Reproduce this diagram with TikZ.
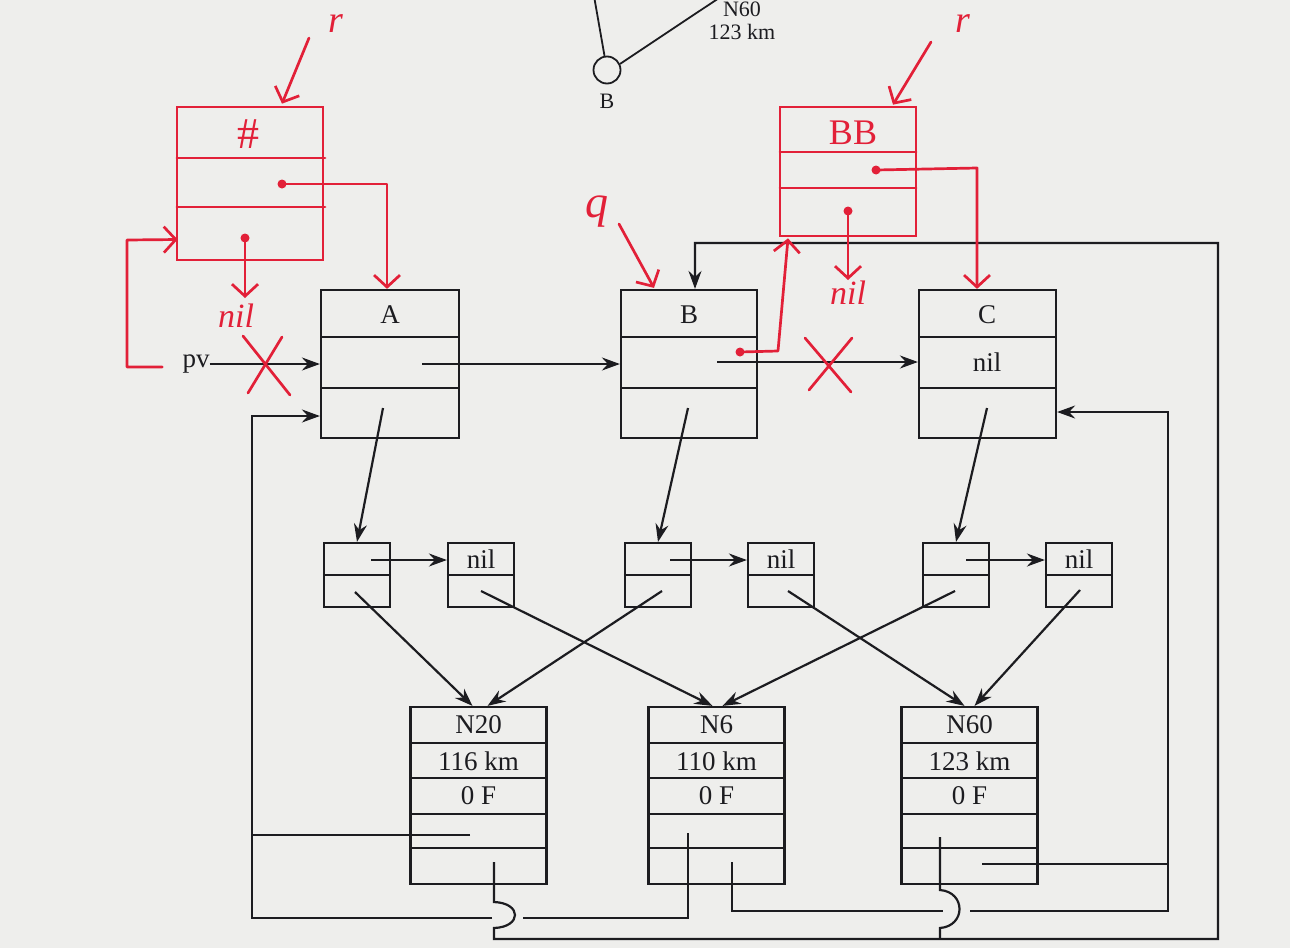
\documentclass[tikz,border=0pt]{standalone}
\usepackage{fontspec}
\setmainfont{Liberation Serif}
\usetikzlibrary{arrows.meta,calc}
\definecolor{ink}{RGB}{28,28,32}
\definecolor{pen}{RGB}{226,32,56}
\definecolor{paper}{RGB}{238,238,236}
\begin{document}
\begin{tikzpicture}[x=1pt,y=-1pt,
  box/.style={draw=ink, line width=2.2pt, inner sep=0pt},
  lbl/.style={text=ink, font=\fontsize{27}{30}\selectfont, inner sep=0pt},
  wire/.style={draw=ink, line width=2.2pt},
  arr/.style={wire, -{Stealth[length=18pt,width=13pt,inset=6pt]}},
  rl/.style={draw=pen, line width=2.7pt, line cap=round, line join=round},
  rarr/.style={rl, -{Straight Barb[length=12pt,width=26pt]}},
  hand/.style={text=pen, font=\fontsize{34}{36}\selectfont\itshape, inner sep=0pt},
  dotp/.style={circle, fill=pen, inner sep=0pt, minimum size=9pt},
  rbox/.style={draw=pen, line width=2.7pt, inner sep=0pt},
]
\fill[paper] (0,0) rectangle (1290,948);
\useasboundingbox (0,0) rectangle (1290,948);

% ---------- top fragment ----------
\node[circle, draw=ink, line width=1.8pt, minimum size=27pt, inner sep=0pt] (Bc) at (607,70) {};
\coordinate (t1) at (594,-4);
\coordinate (t2) at (719,-2);
\draw[wire, line width=1.8pt] (t1) -- (Bc.100);
\draw[wire, line width=1.8pt] (Bc.25) -- (t2);
\node[lbl, font=\fontsize{22}{24}\selectfont] (Bl) at (607,101) {B};
\node[lbl, font=\fontsize{22}{24}\selectfont] (n60t) at (742,9) {N60};
\node[lbl, font=\fontsize{22}{24}\selectfont] (km60t) at (742,32) {123 km};

% ---------- main boxes ----------
\node[box, minimum width=138pt, minimum height=148pt] (A) at (390,364) {};
\draw[wire] (321,337) -- (459,337); \draw[wire] (321,388) -- (459,388);
\node[lbl] (At) at (390,315) {A};

\node[box, minimum width=136pt, minimum height=148pt] (B) at (689,364) {};
\draw[wire] (621,337) -- (757,337); \draw[wire] (621,388) -- (757,388);
\node[lbl] (Bt) at (689,315) {B};

\node[box, minimum width=137pt, minimum height=148pt] (C) at (987.5,364) {};
\draw[wire] (919,337) -- (1056,337); \draw[wire] (919,388) -- (1056,388);
\node[lbl] (Ct) at (987,315) {C};
\node[lbl] (Cn) at (987,362) {nil};

% ---------- small boxes ----------
\foreach \n/\x in {s1/357,n1/481,s2/658,n2/781,s3/956,n3/1079}{
  \node[box, minimum width=66pt, minimum height=64pt] (\n) at (\x,575) {};
  \draw[wire] ($(\n.west)$) -- ($(\n.east)$);
}
\node[lbl] at (481,559) {nil};
\node[lbl] at (781,559) {nil};
\node[lbl] at (1079,559) {nil};

% ---------- city boxes ----------
\foreach \n/\x/\a/\b in {N20/478.5/N20/116 km,N6/716.5/N6/110 km,N60/969.5/N60/123 km}{
  \node[box, minimum width=136pt, minimum height=177pt] (\n) at (\x,795.5) {};
  \foreach \yy in {743,778,814,848}{
    \draw[wire] (\n.west |- 0,\yy) -- (\n.east |- 0,\yy);
  }
  \node[lbl] at (\x,725) {\a};
  \node[lbl] at (\x,761) {\b};
  \node[lbl] at (\x,796) {0 F};
}

% ---------- black connectors ----------
\node[lbl] (pv) at (196,364) {pv};
\draw[arr] (pv.east) -- (A.west);
\coordinate (pA) at (422,364);
\draw[arr] (pA) -- (B.west);
\coordinate (pB) at (717,362);
\draw[arr] (pB) -- (pB -| C.west);

\coordinate (qA) at (383,408);
\coordinate (qB) at (688,408);
\coordinate (qC) at (987,408);
\draw[arr] (qA) -- (s1.north);
\draw[arr] (qB) -- (s2.north);
\draw[arr] (qC) -- (s3.north);

\coordinate (h1) at (371,560);
\coordinate (h2) at (670,560);
\coordinate (h3) at (966,560);
\draw[arr] (h1) -- (h1 -| n1.west);
\draw[arr] (h2) -- (h2 -| n2.west);
\draw[arr] (h3) -- (h3 -| n3.west);

\coordinate (d1) at (355,592);
\coordinate (d2) at (481,591);
\coordinate (d3) at (662,591);
\coordinate (d4) at (788,591);
\coordinate (d5) at (955,591);
\coordinate (d6) at (1080,590);
\draw[arr] (d1) -- ($(N20.north)+(-6,0)$);
\draw[arr] (d3) -- ($(N20.north)+(9,0)$);
\draw[arr] (d2) -- ($(N6.north)+(-4,0)$);
\draw[arr] (d5) -- ($(N6.north)+(6,0)$);
\draw[arr] (d4) -- ($(N60.north)+(-5,0)$);
\draw[arr] (d6) -- ($(N60.north)+(5,0)$);

% loops at the bottom
\coordinate (c20a) at (470,835);
\coordinate (c20b) at (494,862);
\coordinate (c6a) at (688,833);
\coordinate (c6b) at (732,862);
\coordinate (c60a) at (940,837);
\coordinate (c60b) at (982,864);

\draw[arr] (c20a) -- (252,835) -- (252,416) -- ($(A.west)+(0,52)$);
\draw[wire] (c6a) -- (688,918) -- (523,918);
\draw[wire] (492,918) -- (252,918) -- (252,835);

\draw[arr] (c20b) -- (494,902) .. controls (522,903) and (522,927) .. (494,928)
   -- (494,939) -- (1218,939) -- (1218,243) -- (695,243) -- ($(B.north)+(6,0)$);
\draw[wire] (c60a) -- (940,890) .. controls (966,892) and (966,926) .. (940,928) -- (940,939);

\draw[wire] (c6b) -- (732,911) -- (943,911);
\draw[arr] (970,911) -- (1168,911) -- (1168,412) -- ($(C.east)+(0,48)$);
\draw[wire] (c60b) -- (1168,864);

% ---------- red annotations ----------
% left structure
\node[rbox, minimum width=146pt, minimum height=153pt] (R1) at (250,183.5) {};
\draw[rl] (177,158) -- (325,158);
\draw[rl] (177,207) -- (325,207);
\node[hand, font=\fontsize{44}{46}\selectfont] (hash) at (248,134) {\#};
\node[hand, font=\fontsize{38}{40}\selectfont\itshape] (rL) at (336,24) {r};
\draw[rarr] (309,38) -- ($(R1.north)+(32,-2)$);
\node[dotp] (r1a) at (282,184) {};
\draw[rarr] (r1a.center) -- (387,184) -- ($(A.north)+(-3,0)$);
\node[dotp] (r1b) at (245,238) {};
\node[hand] (nilL) at (236,316) {nil};
\draw[rarr] (r1b.center) -- (245,298);
\draw[rarr] ($(pv.west)+(-20,3)$) -- (127,367) -- (127,240) -- ($(R1.west)+(2,56)$);
% X over pv
\coordinate (xa) at (266,365);
\draw[rl] ($(xa)+(-23,-29)$) -- ($(xa)+(24,30)$);
\draw[rl] ($(xa)+(16,-28)$) -- ($(xa)+(-18,28)$);

% right structure
\node[rbox, minimum width=136pt, minimum height=129pt] (R2) at (848,171.5) {};
\draw[rl] (780,152) -- (916,152);
\draw[rl] (780,188) -- (916,188);
\node[hand, font=\fontsize{36}{38}\selectfont\upshape] (bb) at (853,133) {BB};
\node[hand, font=\fontsize{38}{40}\selectfont\itshape] (rR) at (963,24) {r};
\draw[rarr] (931,42) -- ($(R2.north)+(45,-1)$);
\node[dotp] (r2a) at (876,170) {};
\draw[rarr] (r2a.center) -- (977,168) -- ($(C.north)+(-10.5,0)$);
\node[dotp] (r2b) at (848,211) {};
\node[hand] (nilR) at (848,293) {nil};
\draw[rarr] (r2b.center) -- (848,280);

% q pointer
\node[hand, font=\fontsize{46}{48}\selectfont\itshape] (q) at (597,212) {q};
\draw[rarr] (619,224) -- ($(B.north)+(-35,-1)$);

% B -> new cell
\node[dotp] (dB) at (740,352) {};
\draw[rarr] (dB.center) -- (778,351) -- ($(R2.south)+(-60,1)$);

% X between B and C
\coordinate (xb) at (829,364);
\draw[rl] ($(xb)+(-24,-26)$) -- ($(xb)+(22,28)$);
\draw[rl] ($(xb)+(23,-26)$) -- ($(xb)+(-20,26)$);
\end{tikzpicture}
\end{document}
